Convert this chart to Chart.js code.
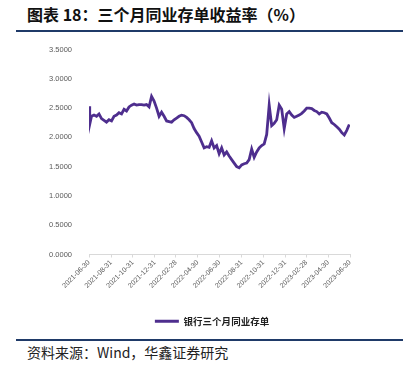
<!DOCTYPE html>
<html>
<head>
<meta charset="utf-8">
<script src="https://cdn.jsdelivr.net/npm/chart.js@4"></script>
<style>
  body { margin: 0; width: 410px; height: 370px; background: #fff; position: relative; overflow: hidden; }
  .title { position: absolute; left: 27px; top: 2px; font: bold 16px "Noto Sans CJK SC"; color: #111; }
  .rule { position: absolute; left: 16px; width: 387px; height: 2px; background: #1f3a68; }
  .source { position: absolute; left: 27px; top: 342px; font: 14px "Noto Sans CJK SC"; color: #222; }
  #wrap { position: absolute; left: 0; top: 36px; width: 410px; height: 300px; }
</style>
</head>
<body>
<div class="title">图表 18：三个月同业存单收益率（%）</div>
<div class="rule" style="top:30px"></div>
<div id="wrap"><canvas id="grafico" width="410" height="300"></canvas></div>
<div class="rule" style="top:339px"></div>
<div class="source">资料来源：Wind，华鑫证券研究</div>
<script>
const serie = "银行三个月同业存单";

const fechas = [
  "2021-06-30", "2021-07-02", "2021-07-07", "2021-07-14", "2021-07-21", "2021-07-28",
  "2021-08-04", "2021-08-11", "2021-08-18", "2021-08-25", "2021-09-01", "2021-09-08",
  "2021-09-15", "2021-09-22", "2021-09-29", "2021-10-06", "2021-10-13", "2021-10-20",
  "2021-10-27", "2021-11-03", "2021-11-10", "2021-11-17", "2021-11-24", "2021-12-01",
  "2021-12-08", "2021-12-15", "2021-12-22", "2021-12-29", "2022-01-05", "2022-01-12",
  "2022-01-19", "2022-01-26", "2022-02-02", "2022-02-09", "2022-02-16", "2022-02-23",
  "2022-03-02", "2022-03-09", "2022-03-16", "2022-03-23", "2022-03-30", "2022-04-06",
  "2022-04-13", "2022-04-20", "2022-04-27", "2022-05-04", "2022-05-11", "2022-05-18",
  "2022-05-25", "2022-06-01", "2022-06-08", "2022-06-15", "2022-06-22", "2022-06-29",
  "2022-07-06", "2022-07-13", "2022-07-20", "2022-07-27", "2022-08-03", "2022-08-10",
  "2022-08-17", "2022-08-24", "2022-08-31", "2022-09-07", "2022-09-14", "2022-09-21",
  "2022-09-28", "2022-10-05", "2022-10-12", "2022-10-19", "2022-10-26", "2022-11-02",
  "2022-11-09", "2022-11-16", "2022-11-23", "2022-11-30", "2022-12-07", "2022-12-14",
  "2022-12-21", "2022-12-28", "2023-01-04", "2023-01-11", "2023-01-18", "2023-01-25",
  "2023-02-01", "2023-02-08", "2023-02-15", "2023-02-22", "2023-03-01", "2023-03-08",
  "2023-03-15", "2023-03-22", "2023-03-29", "2023-04-05", "2023-04-12", "2023-04-19",
  "2023-04-26", "2023-05-03", "2023-05-10", "2023-05-17", "2023-05-24", "2023-05-31",
  "2023-06-07", "2023-06-14", "2023-06-21", "2023-06-28"
];

const rendimientos = [
  2.53, 2.22, 2.36, 2.38, 2.36, 2.40,
  2.32, 2.29, 2.26, 2.30, 2.28, 2.36,
  2.38, 2.42, 2.40, 2.48, 2.45, 2.52,
  2.55, 2.57, 2.55, 2.56, 2.56, 2.55,
  2.56, 2.52, 2.70, 2.62, 2.50, 2.36,
  2.43, 2.36, 2.28, 2.27, 2.26, 2.30,
  2.33, 2.36, 2.38, 2.37, 2.34, 2.30,
  2.25, 2.15, 2.08, 2.02, 1.92, 1.82,
  1.84, 1.83, 1.94, 1.82, 1.86, 1.72,
  1.82, 1.70, 1.75, 1.68, 1.62, 1.56,
  1.50, 1.48, 1.53, 1.55, 1.56, 1.62,
  1.80, 1.66, 1.75, 1.82, 1.86, 1.89,
  2.05, 2.55, 2.20, 2.24, 2.30, 2.55,
  2.48, 2.15, 2.40, 2.44, 2.38, 2.34,
  2.36, 2.38, 2.41, 2.45, 2.50, 2.50,
  2.49, 2.46, 2.44, 2.40, 2.43, 2.42,
  2.40, 2.33, 2.25, 2.22, 2.18, 2.14,
  2.08, 2.04, 2.12, 2.22
];

const etiquetasX = [
  "2021-06-30", "2021-08-31", "2021-10-31", "2021-12-31", "2022-02-28", "2022-04-30",
  "2022-06-30", "2022-08-31", "2022-10-31", "2022-12-31", "2023-02-28", "2023-04-30",
  "2023-06-30"
];

const etiquetasY = [0, 0.5, 1.0, 1.5, 2.0, 2.5, 3.0, 3.5];

const inicio = Date.parse(etiquetasX[0]);
const dia = (f) => Math.round((Date.parse(f) - inicio) / 86400000);

const puntos = fechas.map((f, i) => ({ x: dia(f), y: rendimientos[i] }));
const etiquetaPorDia = {};
etiquetasX.forEach((f) => { etiquetaPorDia[dia(f)] = f; });

const morado = "#4e2e8e";
const gris = "#595959";

const ctx = document.getElementById("grafico").getContext("2d");
new Chart(ctx, {
  type: "line",
  data: {
    datasets: [{
      label: serie,
      data: puntos,
      borderColor: morado,
      backgroundColor: morado,
      borderWidth: 2.8,
      pointRadius: 0,
      tension: 0
    }]
  },
  options: {
    responsive: false,
    animation: false,
    layout: { padding: { left: 14, right: 0, top: 12, bottom: 0 } },
    plugins: {
      tooltip: { enabled: false },
      legend: {
        position: "bottom",
        labels: {
          usePointStyle: true,
          pointStyle: "line",
          pointStyleWidth: 24,
          boxHeight: 3,
          color: "#222",
          padding: 5,
          font: { family: "Noto Sans CJK SC", size: 9.5, weight: "bold" }
        }
      }
    },
    scales: {
      x: {
        type: "linear",
        min: 0,
        max: dia(etiquetasX[etiquetasX.length - 1]),
        afterBuildTicks: (axis) => {
          axis.ticks = etiquetasX.map((f) => ({ value: dia(f) }));
        },
        afterFit: (scale) => { scale.height = 57; },
        grid: { display: true, drawOnChartArea: false, drawTicks: true, tickLength: 3, color: "#d9d9d9" },
        border: { color: "#d9d9d9" },
        ticks: {
          autoSkip: false,
          minRotation: 45,
          maxRotation: 45,
          padding: 1,
          color: gris,
          font: { family: "Liberation Sans", size: 7 },
          callback: (v) => etiquetaPorDia[v] || ""
        }
      },
      y: {
        min: 0,
        max: 3.5,
        afterBuildTicks: (axis) => {
          axis.ticks = etiquetasY.map((v) => ({ value: v }));
        },
        afterFit: (scale) => { scale.width = 75; },
        grid: { display: false },
        border: { display: false },
        ticks: {
          padding: 9,
          color: gris,
          font: { family: "Liberation Sans", size: 7.5 },
          callback: (v) => v.toFixed(4)
        }
      },
      derecha: {
        position: "right",
        min: 0,
        max: 3.5,
        afterFit: (scale) => { scale.width = 60; },
        grid: { display: false },
        border: { display: false },
        ticks: { display: false }
      }
    }
  }
});
</script>
</body>
</html>
